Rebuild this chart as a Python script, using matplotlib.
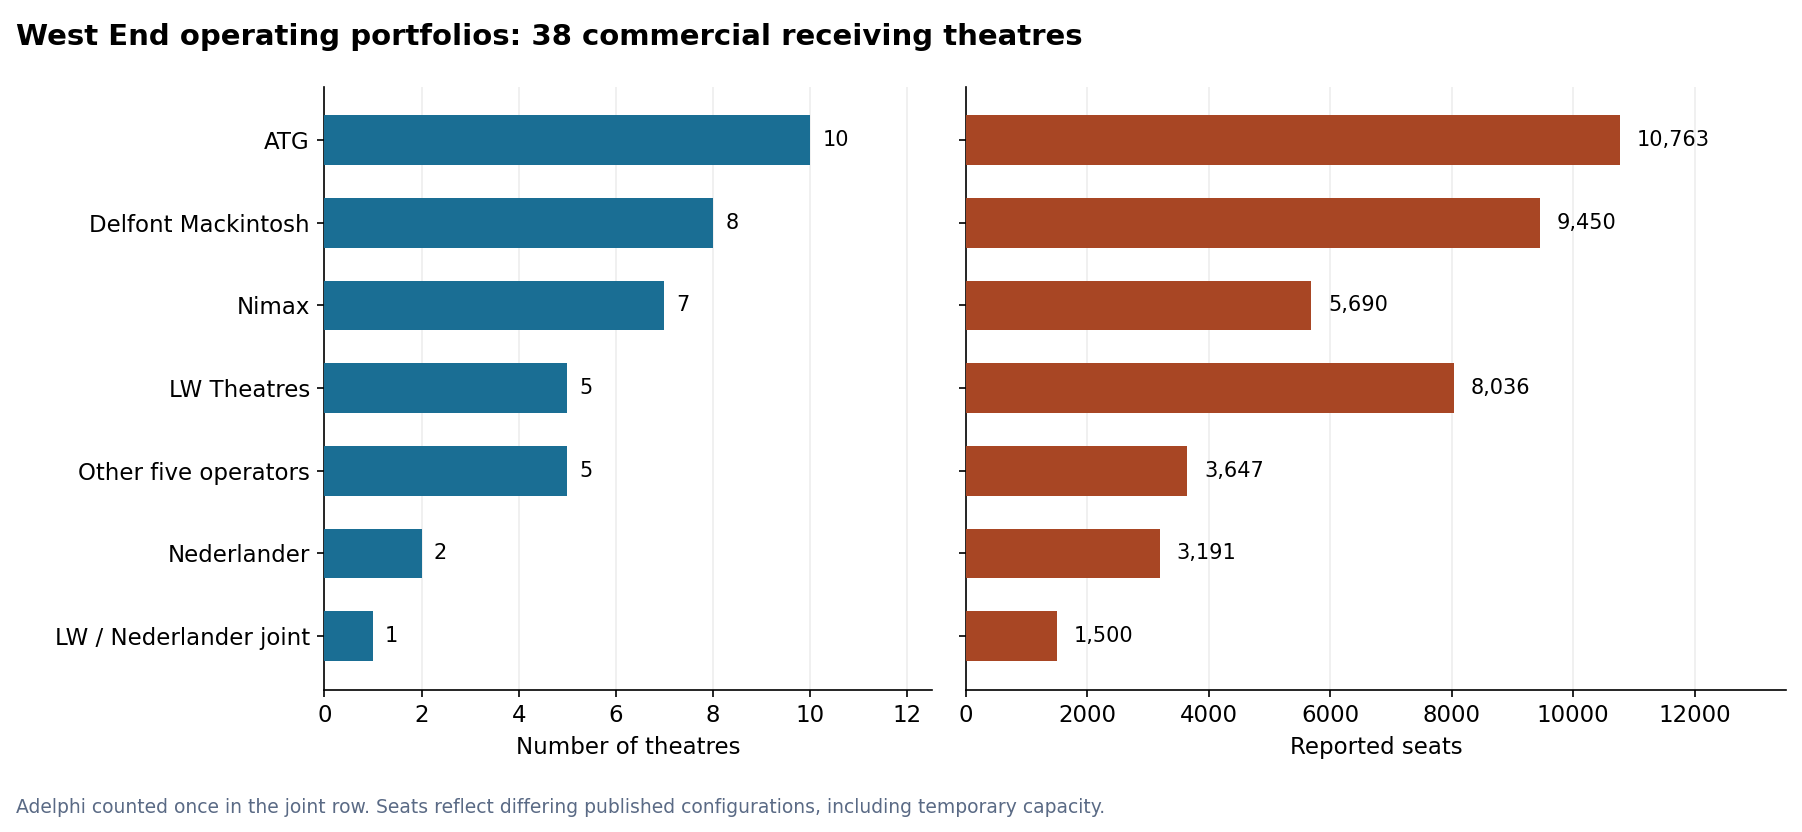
import matplotlib
matplotlib.use("Agg")
import matplotlib.pyplot as plt

operators = ["ATG", "Delfont Mackintosh", "Nimax", "LW Theatres",
             "Other five operators", "Nederlander", "LW / Nederlander joint"]
theatres = [10, 8, 7, 5, 5, 2, 1]
seats = [10763, 9450, 5690, 8036, 3647, 3191, 1500]

BLUE = "#1a6e94"
RUST = "#a84624"

fig = plt.figure(figsize=(1802 / 150, 832 / 150), dpi=150)
ax1 = fig.add_axes([0.18, 0.171, 0.337, 0.725])
ax2 = fig.add_axes([0.536, 0.171, 0.455, 0.725])

y = list(range(len(operators)))
ax1.barh(y, theatres, height=0.6, color=BLUE, zorder=3)
for yi, v in zip(y, theatres):
    ax1.text(v + 0.25, yi, f"{v}", va="center", fontsize=10)
ax1.set_yticks(y)
ax1.set_yticklabels(operators, fontsize=11)
ax1.set_xlim(0, 12.5)
ax1.set_xticks(range(0, 13, 2))
ax1.set_xlabel("Number of theatres", fontsize=11)

ax2.barh(y, seats, height=0.6, color=RUST, zorder=3)
for yi, v in zip(y, seats):
    ax2.text(v + 280, yi, f"{v:,}", va="center", fontsize=10)
ax2.set_yticks(y)
ax2.set_yticklabels([])
ax2.set_xlim(0, 13500)
ax2.set_xticks(range(0, 12001, 2000))
ax2.set_xlabel("Reported seats", fontsize=11)

for ax in (ax1, ax2):
    ax.invert_yaxis()
    ax.set_ylim(len(operators) - 0.35, -0.65)
    ax.spines[["top", "right"]].set_visible(False)
    ax.grid(axis="x", color="#eeeeee", linewidth=0.8, zorder=0)
    ax.tick_params(axis="x", labelsize=11)

fig.text(0.009, 0.955, "West End operating portfolios: 38 commercial receiving theatres",
         fontsize=14, fontweight="bold", va="center")
fig.text(0.009, 0.03, "Adelphi counted once in the joint row. Seats reflect differing "
         "published configurations, including temporary capacity.",
         fontsize=9, color="#5a6a85", va="center")

fig.savefig("out.png", dpi=150, facecolor="white")
